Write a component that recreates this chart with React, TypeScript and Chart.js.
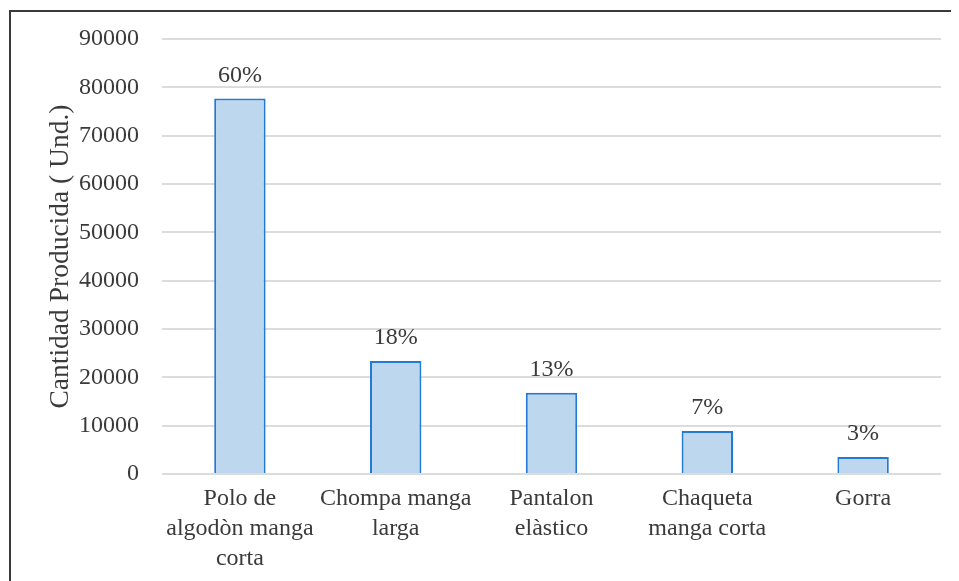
import React, { useEffect, useRef } from "react";
import { Chart, registerables } from "chart.js";

Chart.register(...registerables);

const categories: string[][] = [
  ["Polo de", "algodòn manga", "corta"],
  ["Chompa manga", "larga"],
  ["Pantalon", "elàstico"],
  ["Chaqueta", "manga corta"],
  ["Gorra"],
];
const cantidades: number[] = [77700, 23400, 16800, 8900, 3500];
const porcentajes: string[] = ["60%", "18%", "13%", "7%", "3%"];
const yTitle = "Cantidad Producida ( Und.)";

const FONT = '"Liberation Serif", "Times New Roman", serif';
const TEXT = "#3a3a3a";

const percentPlugin = {
  id: "percentLabels",
  afterDatasetsDraw(chart: any) {
    const ctx = chart.ctx;
    const meta = chart.getDatasetMeta(0);
    ctx.save();
    ctx.font = `24px ${FONT}`;
    ctx.fillStyle = TEXT;
    ctx.textAlign = "center";
    ctx.textBaseline = "bottom";
    meta.data.forEach((bar: any, i: number) => {
      ctx.fillText(porcentajes[i], bar.x, bar.y - 11);
    });
    ctx.restore();
  },
};

export default function App() {
  const ref = useRef<HTMLCanvasElement | null>(null);
  useEffect(() => {
    if (!ref.current) return;
    const chart = new Chart(ref.current, {
      type: "bar",
      data: {
        labels: categories,
        datasets: [
          {
            data: cantidades,
            backgroundColor: "#BDD7EE",
            borderColor: "#2479D2",
            borderWidth: 2,
            barPercentage: 0.33,
            categoryPercentage: 1,
          },
        ],
      },
      options: {
        responsive: false,
        animation: false,
        devicePixelRatio: 1,
        layout: { padding: { left: 0, top: 27, right: 18, bottom: 0 } },
        plugins: {
          legend: { display: false },
          tooltip: { enabled: false },
        },
        scales: {
          x: {
            grid: { display: false, drawTicks: false },
            border: { display: false },
            ticks: {
              color: TEXT,
              font: { family: FONT, size: 24, lineHeight: 1.25 },
              padding: 10,
              maxRotation: 0,
              autoSkip: false,
            },
            afterFit(scale: any) {
              scale.height = 118;
            },
          },
          y: {
            min: 0,
            max: 90000,
            grid: {
              color: "#dcdcdc",
              lineWidth: 2,
              drawTicks: true,
              tickLength: 20,
              tickColor: "rgba(0,0,0,0)",
            },
            border: { display: false },
            ticks: {
              stepSize: 10000,
              color: TEXT,
              font: { family: FONT, size: 24 },
              padding: 3,
              callback: (v: any) => String(v),
            },
            title: {
              display: true,
              text: yTitle,
              color: TEXT,
              font: { family: FONT, size: 27.5 },
              padding: { top: 33, bottom: 0 },
            },
            afterFit(scale: any) {
              scale.width = 151;
            },
          },
        },
      },
      plugins: [percentPlugin],
    });
    return () => chart.destroy();
  }, []);

  return (
    <div
      style={{
        marginLeft: 1,
        marginTop: 2,
        width: 948,
        height: 580,
        borderTop: "2px solid #3a3a3a",
        borderLeft: "2px solid #3a3a3a",
        background: "#fff",
      }}
    >
      <canvas ref={ref} width={948} height={580} style={{ display: "block" }} />
    </div>
  );
}
